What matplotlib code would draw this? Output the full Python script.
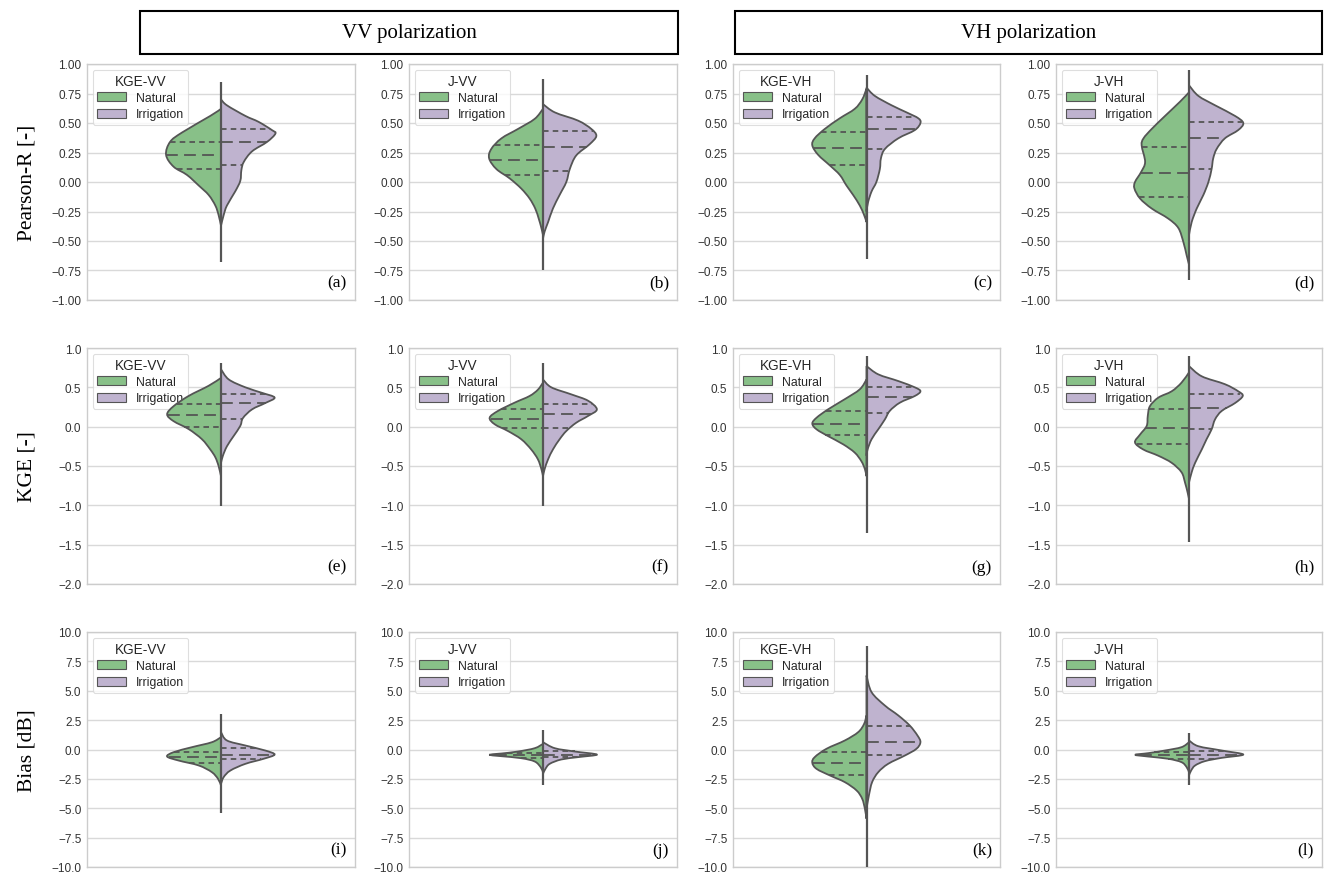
import numpy as np
import matplotlib
matplotlib.use("Agg")
import matplotlib.pyplot as plt
from matplotlib.patches import Patch, Rectangle, PathPatch
from matplotlib.path import Path

plt.rcParams['font.family'] = ['Liberation Sans', 'DejaVu Sans']
plt.rcParams['lines.scale_dashes'] = False

# ---------------- data ----------------
# each half violin: y levels and half-widths (percent of panel width)
# Panel order: a b c d / e f g h / i j k l
legend_titles = ["KGE-VV", "J-VV", "KGE-VH", "J-VH"]
groups = ["Natural", "Irrigation"]
panel_tags = ["(a)", "(b)", "(c)", "(d)", "(e)", "(f)", "(g)", "(h)",
              "(i)", "(j)", "(k)", "(l)"]
row_labels = ["Pearson-R [-]", "KGE [-]", "Bias [dB]"]
col_headers = ["VV polarization", "VH polarization"]

nat_y = [
    [0.62, 0.56, 0.42, 0.34, 0.23, 0.13, 0.06, -0.03, -0.11, -0.20, -0.28, -0.37],
    [0.62, 0.535, 0.45, 0.37, 0.28, 0.2, 0.11, 0.03, -0.056, -0.14, -0.225, -0.31, -0.39, -0.45],
    [0.79, 0.70, 0.62, 0.54, 0.45, 0.37, 0.31, 0.23, 0.14, 0.06, -0.03, -0.11, -0.20, -0.28, -0.34],
    [0.76, 0.68, 0.56, 0.45, 0.37, 0.31, 0.17, 0.085, 0.0, -0.056, -0.14, -0.225, -0.31, -0.39, -0.51, -0.62, -0.70],
    [0.62, 0.52, 0.39, 0.26, 0.157, 0.07, -0.03, -0.16, -0.29, -0.39, -0.5, -0.63],
    [0.56, 0.47, 0.39, 0.305, 0.2, 0.114, 0.03, -0.055, -0.16, -0.29, -0.415, -0.54, -0.63],
    [0.6, 0.475, 0.35, 0.22, 0.114, 0.04, -0.034, -0.12, -0.225, -0.33, -0.44, -0.54, -0.63],
    [0.69, 0.56, 0.45, 0.37, 0.26, 0.136, 0.01, -0.1, -0.2, -0.29, -0.37, -0.46, -0.58, -0.71, -0.84, -0.92],
    [1.05, 0.62, 0.2, -0.23, -0.6, -0.94, -1.36, -1.93, -2.5, -3.06],
    [0.48, 0.11, -0.17, -0.34, -0.45, -0.57, -0.74, -1.02, -1.5, -1.93],
    [2.9, 2.18, 1.48, 0.77, 0.06, -0.65, -1.13, -1.65, -2.21, -2.78, -3.49, -4.2, -5.05, -5.9],
    [0.62, 0.2, -0.085, -0.31, -0.45, -0.6, -0.79, -1.08, -1.5, -1.93],
]
nat_w = [
    [0, 4, 14.5, 19, 20.5, 17.7, 12.7, 8.3, 4.6, 2.1, 0.9, 0],
    [0, 3.1, 9.3, 15.5, 19.3, 20.1, 17.4, 12.4, 8.1, 5, 2.9, 1.6, 0.6, 0],
    [0, 1.6, 4.4, 10, 15.6, 19.4, 20.3, 18.1, 13.7, 10, 7.5, 5, 2.5, 0.9, 0],
    [0, 3.4, 9, 14, 17.1, 17.8, 16.5, 18, 20.3, 20.5, 18.4, 14, 7.8, 4, 2.1, 0.9, 0],
    [0, 4.6, 12.1, 17.7, 20.1, 17.7, 12.1, 7.1, 4, 2.1, 0.9, 0],
    [0, 1.9, 5, 10.6, 16.8, 19.9, 18, 13.1, 8.1, 4.4, 1.9, 0.6, 0],
    [0, 2.5, 8.1, 14.4, 18.7, 20.3, 18.7, 14.4, 8.7, 4.4, 1.9, 0.6, 0],
    [0, 2.8, 6.5, 11.5, 14.7, 15.5, 15.9, 18.4, 20.3, 17.2, 11.5, 6.5, 2.8, 1.5, 0.5, 0],
    [0, 3.4, 10.8, 17.7, 20.1, 15.8, 8.3, 3.4, 1.1, 0],
    [0, 3.1, 9.3, 15.5, 20.1, 15.5, 8.1, 3.1, 0.9, 0],
    [0, 0.9, 3.1, 8.1, 15, 19.4, 20.3, 18.7, 13.7, 8.1, 3.7, 1.6, 0.6, 0],
    [0, 2.8, 9, 15.3, 20.3, 15.3, 7.8, 2.8, 0.9, 0],
]
irr_y = [
    [0.70, 0.65, 0.56, 0.51, 0.44, 0.41, 0.34, 0.26, 0.17, 0.10, 0.01, -0.08, -0.20, -0.28, -0.37],
    [0.66, 0.59, 0.52, 0.45, 0.39, 0.32, 0.225, 0.11, 0.0, -0.11, -0.225, -0.34, -0.42, -0.48],
    [0.80, 0.73, 0.65, 0.59, 0.54, 0.50, 0.44, 0.37, 0.28, 0.20, 0.11, 0.0, -0.08, -0.17, -0.25],
    [0.82, 0.73, 0.65, 0.56, 0.50, 0.44, 0.37, 0.28, 0.20, 0.11, 0.0, -0.11, -0.225, -0.34, -0.45],
    [0.73, 0.60, 0.50, 0.43, 0.37, 0.30, 0.22, 0.11, 0.01, -0.12, -0.25, -0.37, -0.46],
    [0.60, 0.5, 0.41, 0.33, 0.22, 0.136, 0.05, -0.055, -0.16, -0.29, -0.415, -0.54, -0.63],
    [0.77, 0.665, 0.58, 0.5, 0.45, 0.39, 0.305, 0.2, 0.093, -0.034, -0.16, -0.29, -0.37],
    [0.77, 0.64, 0.54, 0.45, 0.39, 0.3, 0.2, 0.093, -0.034, -0.16, -0.29, -0.46, -0.58, -0.71],
    [1.48, 0.77, 0.34, -0.085, -0.43, -0.79, -1.22, -1.79, -2.35, -2.92],
    [0.62, 0.11, -0.17, -0.43, -0.65, -0.85, -1.22, -1.65, -2.07],
    [6.3, 4.88, 3.74, 2.9, 2.04, 1.19, 0.62, 0.06, -0.51, -1.22, -1.93, -2.78, -3.91, -5.05],
    [0.77, 0.28, -0.085, -0.43, -0.71, -0.99, -1.36, -1.79, -2.2],
]
irr_w = [
    [0, 2.2, 9.1, 14, 19, 20.3, 17.2, 11.6, 8.5, 7.6, 7.2, 5.3, 2.2, 1, 0],
    [0, 4.4, 13.1, 18, 19.9, 17.4, 12.4, 10, 8.7, 6.2, 3.7, 1.9, 0.6, 0],
    [0, 3.1, 9.4, 15, 19.4, 20.2, 18.1, 11.9, 6.9, 5.4, 5, 3.7, 1.9, 0.6, 0],
    [0, 3.5, 9.8, 17.3, 20.4, 18.5, 13.5, 10.4, 9.1, 8.5, 7.3, 5.4, 2.9, 1, 0],
    [0, 2.9, 9.1, 15.3, 20, 16.5, 11.6, 8.2, 7.2, 4.7, 2.2, 0.7, 0],
    [0, 3.1, 10.6, 16.8, 20.1, 16.8, 12.4, 8.7, 6.2, 3.7, 1.9, 0.6, 0],
    [0, 4.4, 11.9, 18.1, 20.2, 18.1, 12.5, 8.7, 6.9, 4.4, 1.9, 0.4, 0],
    [0, 4.8, 13.5, 18.5, 20.2, 17.3, 12.3, 9.8, 8.5, 6.6, 4.8, 2.3, 1, 0],
    [0, 2.2, 9.1, 16.5, 20, 15.9, 9.1, 3.5, 1, 0],
    [0, 4.4, 11.8, 20.1, 13.1, 6.8, 2.5, 0.9, 0],
    [0, 1.9, 6.9, 11.9, 16.2, 19.1, 20.2, 18.7, 14.4, 8.1, 4.4, 2.1, 0.9, 0],
    [0, 3.5, 12.3, 20.4, 12.3, 6, 2.3, 0.8, 0],
]
# quartiles (q1, median, q3)
nat_q = [
    [0.11, 0.23, 0.34], [0.056, 0.19, 0.31], [0.14, 0.29, 0.42], [-0.13, 0.08, 0.30],
    [0.0, 0.15, 0.29], [-0.02, 0.10, 0.22], [-0.1, 0.04, 0.2], [-0.225, -0.02, 0.23],
    [-1.16, -0.65, -0.23], [-0.74, -0.51, -0.28], [-2.16, -1.16, -0.23], [-0.79, -0.51, -0.23],
]
irr_q = [
    [0.14, 0.34, 0.45], [0.093, 0.30, 0.435], [0.28, 0.45, 0.555], [0.11, 0.37, 0.51],
    [0.10, 0.305, 0.41], [-0.02, 0.16, 0.285], [0.18, 0.375, 0.5], [-0.025, 0.24, 0.42],
    [-0.85, -0.43, 0.11], [-0.65, -0.43, -0.17], [-0.51, 0.65, 1.96], [-0.79, -0.43, -0.17],
]
# overall min / max (whisker tails)
tail_min = [-0.68, -0.75, -0.65, -0.83, -1.01, -1.01, -1.356, -1.47, -5.39, -3.06, -10.0, -3.0]
tail_max = [0.85, 0.87, 0.91, 0.95, 0.81, 0.81, 0.90, 0.90, 3.04, 1.62, 8.79, 1.42]

row_ylims = [(-1.0, 1.0), (-2.0, 1.0), (-10.0, 10.0)]
row_ystep = [0.25, 0.5, 2.5]
row_fmt = ["{:.2f}", "{:.1f}", "{:.1f}"]

# ---------------- style ----------------
c_nat = "#88c088"
c_irr = "#bfb3cf"
c_line = "#555555"
c_grid = "#d9d9d9"

W, H = 1343, 895
fig = plt.figure(figsize=(W / 100, H / 100), dpi=100)

col_left = [87, 409, 733, 1056]
col_w = [268, 268, 267, 266]
row_top = [65, 349, 633]
row_h = [236, 236, 235]

serif = ['Liberation Serif', 'DejaVu Serif']


def half_path(ys, ws, sign):
    """Smooth (Bezier) outline through the read points, closed on the centre line."""
    pts = np.column_stack([sign * np.asarray(ws), np.asarray(ys)])
    n = len(pts)
    ext = np.vstack([pts[0], pts, pts[-1]])
    verts = [tuple(pts[0])]
    codes = [Path.MOVETO]
    for i in range(n - 1):
        p0, p1, p2, p3 = ext[i], ext[i + 1], ext[i + 2], ext[i + 3]
        c1 = p1 + (p2 - p0) / 6.0
        c2 = p2 - (p3 - p1) / 6.0
        c1[0] = sign * max(0.0, sign * c1[0])
        c2[0] = sign * max(0.0, sign * c2[0])
        verts += [tuple(c1), tuple(c2), tuple(p2)]
        codes += [Path.CURVE4] * 3
    verts += [(0.0, pts[0][1]), (0.0, pts[0][1])]
    codes += [Path.LINETO, Path.CLOSEPOLY]
    return Path(verts, codes)


for r in range(3):
    for c in range(4):
        k = r * 4 + c
        ax = fig.add_axes([col_left[c] / W, 1 - (row_top[r] + row_h[r]) / H,
                           col_w[c] / W, row_h[r] / H])
        ax.set_facecolor("white")
        ax.set_xlim(-0.5, 0.5)
        lo, hi = row_ylims[r]
        ax.set_ylim(lo, hi)
        ticks = np.arange(lo, hi + 1e-9, row_ystep[r])
        ax.set_yticks(ticks)
        ax.set_yticklabels([row_fmt[r].format(t).replace("-", "\u2212") for t in ticks],
                           fontsize=8.5, color="#333333")
        ax.set_xticks([])
        ax.tick_params(axis='y', length=0, pad=4)
        ax.set_axisbelow(True)
        ax.yaxis.grid(True, color=c_grid, lw=1.0)
        for s in ax.spines.values():
            s.set_color("#cccccc")
            s.set_linewidth(1.0)

        # violin halves
        ny = np.array(nat_y[k]); nw = np.array(nat_w[k]) / 100.0
        iy = np.array(irr_y[k]); iw = np.array(irr_w[k]) / 100.0
        ax.add_patch(PathPatch(half_path(ny, nw, -1), facecolor=c_nat,
                               edgecolor=c_line, lw=1.3, zorder=2))
        ax.add_patch(PathPatch(half_path(iy, iw, 1), facecolor=c_irr,
                               edgecolor=c_line, lw=1.3, zorder=2))
        # quartile lines
        for qi, q in enumerate(nat_q[k]):
            wq = np.interp(q, ny[::-1], nw[::-1])
            ds = (8.5, 4.5) if qi == 1 else (4.0, 3.0)
            ax.plot([-wq, 0], [q, q], color=c_line, lw=1.3, dashes=ds, zorder=3)
        for qi, q in enumerate(irr_q[k]):
            wq = np.interp(q, iy[::-1], iw[::-1])
            ds = (8.5, 4.5) if qi == 1 else (4.0, 3.0)
            ax.plot([0, wq], [q, q], color=c_line, lw=1.3, dashes=ds, zorder=3)
        # center line / tails
        ax.plot([0, 0], [tail_min[k], tail_max[k]], color=c_line, lw=1.6, zorder=4,
                solid_capstyle='butt')

        handles = [Patch(facecolor=c_nat, edgecolor=c_line, lw=0.8, label=groups[0]),
                   Patch(facecolor=c_irr, edgecolor=c_line, lw=0.8, label=groups[1])]
        leg = ax.legend(handles=handles, title=legend_titles[c], loc="upper left",
                        fontsize=8.8, title_fontsize=9.8, frameon=True,
                        handlelength=2.4, handleheight=0.75, borderpad=0.35,
                        labelspacing=0.35, handletextpad=0.8,
                        bbox_to_anchor=(0.0, 1.0), borderaxespad=0.45)
        leg.get_frame().set_edgecolor("#d6d6d6")
        leg.get_frame().set_linewidth(0.8)
        leg.set_zorder(1.5)
        for t in leg.get_texts():
            t.set_color("#262626")
        leg.get_title().set_color("#262626")

        ax.text(0.97, 0.04, panel_tags[k], transform=ax.transAxes, ha="right",
                va="bottom", fontsize=12.5, family=serif, color="black")

# row labels
for r in range(3):
    yc = 1 - (row_top[r] + row_h[r] / 2) / H
    fig.text(27 / W, yc, row_labels[r], rotation=90, ha="center", va="center",
             fontsize=15.5, family=serif)

# column headers
boxes = [(140, 678), (735, 1322)]
for (x0, x1), txt in zip(boxes, col_headers):
    y0, y1 = 12, 55
    fig.patches.append(Rectangle((x0 / W, 1 - y1 / H), (x1 - x0) / W, (y1 - y0) / H,
                                 transform=fig.transFigure, facecolor="white",
                                 edgecolor="black", lw=1.5))
    fig.text((x0 + x1) / 2 / W, 1 - (y0 + y1) / 2 / H, txt, ha="center", va="center",
             fontsize=15, family=serif)

fig.savefig("out.png", dpi=100, facecolor="white")
